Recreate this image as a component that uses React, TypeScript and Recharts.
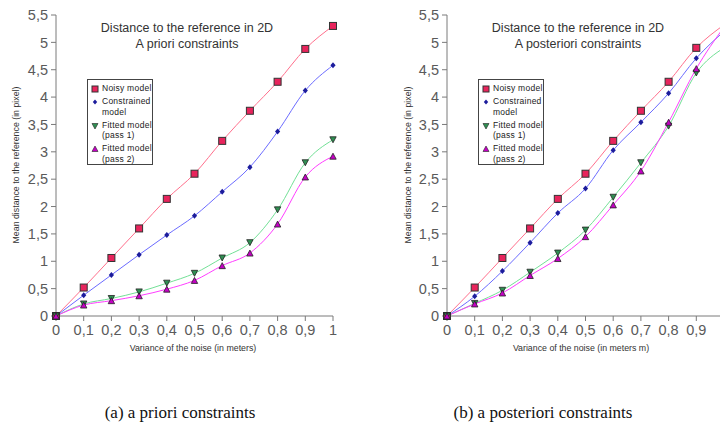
import React from 'react';
import { LineChart, Line, XAxis, YAxis } from 'recharts';

const noise = [0, 0.1, 0.2, 0.3, 0.4, 0.5, 0.6, 0.7, 0.8, 0.9, 1];
const xTicks = [0, 0.1, 0.2, 0.3, 0.4, 0.5, 0.6, 0.7, 0.8, 0.9, 1];
const xTicksCut = [0, 0.1, 0.2, 0.3, 0.4, 0.5, 0.6, 0.7, 0.8, 0.9];
const yTicks = [0, 0.5, 1, 1.5, 2, 2.5, 3, 3.5, 4, 4.5, 5, 5.5];

// (a) a priori constraints
const prioriNoisy = [0, 0.52, 1.06, 1.6, 2.14, 2.6, 3.2, 3.75, 4.28, 4.88, 5.3];
const prioriConstrained = [0, 0.38, 0.75, 1.12, 1.48, 1.83, 2.27, 2.72, 3.37, 4.12, 4.58];
const prioriFitted1 = [0, 0.22, 0.32, 0.44, 0.6, 0.78, 1.06, 1.34, 1.94, 2.8, 3.22];
const prioriFitted2 = [0, 0.2, 0.28, 0.37, 0.49, 0.65, 0.92, 1.15, 1.68, 2.54, 2.92];

// (b) a posteriori constraints
const posterioriNoisy = [0, 0.52, 1.06, 1.6, 2.14, 2.6, 3.2, 3.75, 4.28, 4.9, 5.32];
const posterioriConstrained = [0, 0.36, 0.82, 1.34, 1.88, 2.33, 3.03, 3.54, 4.07, 4.71, 5.2];
const posterioriFitted1 = [0, 0.23, 0.47, 0.8, 1.15, 1.57, 2.17, 2.8, 3.47, 4.44, 4.9];
const posterioriFitted2 = [0, 0.22, 0.42, 0.74, 1.05, 1.45, 2.03, 2.65, 3.54, 4.52, 5.28];

const SANS = '"Liberation Sans", Arial, sans-serif';
const SERIF = '"Liberation Serif", "Times New Roman", serif';

const COLORS = {
  noisyLine: '#ff6f8c',
  noisyDot: '#e8245c',
  consLine: '#6b6bff',
  consDot: '#1c1c9c',
  fit1Line: '#72e096',
  fit1Dot: '#2f8f52',
  fit2Line: '#ff3dff',
  fit2Dot: '#c400c4',
};

const fmt = (v: number) => String(Math.round(v * 10) / 10).replace('.', ',');

function buildRows(a: number[], b: number[], c: number[], d: number[]) {
  return noise.map((x, i) => ({ x, noisy: a[i], cons: b[i], fit1: c[i], fit2: d[i] }));
}

const squareDot = (p: any) => (
  <rect key={`sq-${p.index}`} x={p.cx - 3.5} y={p.cy - 3.5} width={7} height={7} fill={COLORS.noisyDot} stroke="#333" strokeWidth={1} />
);
const diamondDot = (p: any) => (
  <path key={`dm-${p.index}`} d={`M${p.cx},${p.cy - 3}L${p.cx + 2.6},${p.cy}L${p.cx},${p.cy + 3}L${p.cx - 2.6},${p.cy}Z`} fill={COLORS.consDot} />
);
const downDot = (p: any) => (
  <path key={`dn-${p.index}`} d={`M${p.cx - 3.2},${p.cy - 3}L${p.cx + 3.2},${p.cy - 3}L${p.cx},${p.cy + 3}Z`} fill={COLORS.fit1Dot} stroke="#222" strokeWidth={0.8} />
);
const upDot = (p: any) => (
  <path key={`up-${p.index}`} d={`M${p.cx - 3.2},${p.cy + 3}L${p.cx + 3.2},${p.cy + 3}L${p.cx},${p.cy - 3}Z`} fill={COLORS.fit2Dot} stroke="#222" strokeWidth={0.8} />
);

function LegendBox(props: { left: number; top: number }) {
  const sym = (kind: string) => {
    if (kind === 'sq') return <rect x={1} y={1} width={6} height={6} fill={COLORS.noisyDot} stroke="#333" />;
    if (kind === 'dm') return <path d="M4,1.5L6.2,4L4,6.5L1.8,4Z" fill={COLORS.consDot} />;
    if (kind === 'dn') return <path d="M1,1.5L7,1.5L4,7Z" fill={COLORS.fit1Dot} stroke="#222" strokeWidth={0.6} />;
    return <path d="M1,6.5L7,6.5L4,1Z" fill={COLORS.fit2Dot} stroke="#222" strokeWidth={0.6} />;
  };
  const items = [
    { kind: 'sq', lines: ['Noisy model'] },
    { kind: 'dm', lines: ['Constrained', 'model'] },
    { kind: 'dn', lines: ['Fitted model', '(pass 1)'] },
    { kind: 'up', lines: ['Fitted model', '(pass 2)'] },
  ];
  return (
    <div
      style={{
        position: 'absolute',
        left: props.left,
        top: props.top,
        width: 66,
        height: 86,
        border: '1px solid #444',
        background: '#fff',
        fontFamily: SANS,
        fontSize: 8.5,
        letterSpacing: 0.25,
        color: '#222',
        boxSizing: 'border-box',
        padding: '3px 0 0 3px',
        whiteSpace: 'nowrap',
      }}
    >
      {items.map((it) => (
        <div key={it.lines[0] + it.kind} style={{ display: 'flex', alignItems: 'flex-start', marginBottom: 2.5 }}>
          <svg width={8} height={8} style={{ marginTop: 2, marginRight: 3, flexShrink: 0 }}>
            {sym(it.kind)}
          </svg>
          <div style={{ lineHeight: '10.5px' }}>
            {it.lines.map((l) => (
              <div key={l}>{l}</div>
            ))}
          </div>
        </div>
      ))}
    </div>
  );
}

function Panel(props: {
  left: number;
  rows: any[];
  ticks: number[];
  subtitle: string;
  xTitle: string;
  titleCenter: number;
  yTitleCenter: number;
  xTitleCenter: number;
  legendLeft: number;
}) {
  const tickStyle = { fontFamily: SANS, fontSize: 14.5, fill: '#5a5a5a' };
  return (
    <>
      <div style={{ position: 'absolute', left: props.left, top: 0 }}>
        <LineChart width={360} height={360} data={props.rows} margin={{ top: 15, right: 27, bottom: 14, left: 0 }}>
          <XAxis
            dataKey="x"
            type="number"
            domain={[0, 1]}
            ticks={props.ticks}
            tickFormatter={fmt}
            stroke="#7a7a7a"
            tickSize={5}
            tickMargin={4}
            height={30}
            tick={tickStyle}
            interval={0}
          />
          <YAxis
            type="number"
            domain={[0, 5.5]}
            ticks={yTicks}
            tickFormatter={fmt}
            stroke="#7a7a7a"
            tickSize={5}
            tickMargin={3}
            width={56}
            tick={tickStyle}
            interval={0}
          />
          <Line type="monotone" dataKey="noisy" stroke={COLORS.noisyLine} strokeWidth={1} dot={squareDot} isAnimationActive={false} />
          <Line type="monotone" dataKey="cons" stroke={COLORS.consLine} strokeWidth={1} dot={diamondDot} isAnimationActive={false} />
          <Line type="monotone" dataKey="fit1" stroke={COLORS.fit1Line} strokeWidth={1} dot={downDot} isAnimationActive={false} />
          <Line type="monotone" dataKey="fit2" stroke={COLORS.fit2Line} strokeWidth={1} dot={upDot} isAnimationActive={false} />
        </LineChart>
      </div>
      <div
        style={{
          position: 'absolute',
          left: props.titleCenter - 120,
          top: 20,
          width: 240,
          textAlign: 'center',
          fontFamily: SANS,
          fontSize: 12.5,
          lineHeight: '16px',
          color: '#333',
        }}
      >
        <div>Distance to the reference in 2D</div>
        <div>{props.subtitle}</div>
      </div>
      <LegendBox left={props.legendLeft} top={79} />
      <div
        style={{
          position: 'absolute',
          left: props.yTitleCenter - 120,
          top: 160,
          width: 240,
          textAlign: 'center',
          transform: 'rotate(-90deg)',
          fontFamily: SANS,
          fontSize: 8.8,
          color: '#333',
          lineHeight: '10px',
        }}
      >
        Mean distance to the reference (in pixel)
      </div>
      <div
        style={{
          position: 'absolute',
          left: props.xTitleCenter - 120,
          top: 343,
          width: 240,
          textAlign: 'center',
          fontFamily: SANS,
          fontSize: 8.8,
          color: '#333',
          lineHeight: '10px',
        }}
      >
        {props.xTitle}
      </div>
    </>
  );
}

export default function App() {
  const priori = buildRows(prioriNoisy, prioriConstrained, prioriFitted1, prioriFitted2);
  const posteriori = buildRows(posterioriNoisy, posterioriConstrained, posterioriFitted1, posterioriFitted2);
  const caption = { position: 'absolute' as const, top: 403, width: 300, textAlign: 'center' as const, fontFamily: SERIF, fontSize: 17, color: '#111' };
  return (
    <div style={{ position: 'absolute', left: 0, top: 0, width: 720, height: 432, overflow: 'hidden', background: '#fff' }}>
      <Panel
        left={0}
        rows={priori}
        ticks={xTicks}
        subtitle="A priori constraints"
        xTitle="Variance of the noise (in meters)"
        titleCenter={187}
        yTitleCenter={16}
        xTitleCenter={193}
        legendLeft={87}
      />
      <Panel
        left={391}
        rows={posteriori}
        ticks={xTicksCut}
        subtitle="A posteriori constraints"
        xTitle="Variance of the noise (in meters m)"
        titleCenter={578}
        yTitleCenter={408}
        xTitleCenter={581}
        legendLeft={478}
      />
      <div style={{ ...caption, left: 180 - 150 }}>(a) a priori constraints</div>
      <div style={{ ...caption, left: 543 - 150 }}>(b) a posteriori constraints</div>
    </div>
  );
}
